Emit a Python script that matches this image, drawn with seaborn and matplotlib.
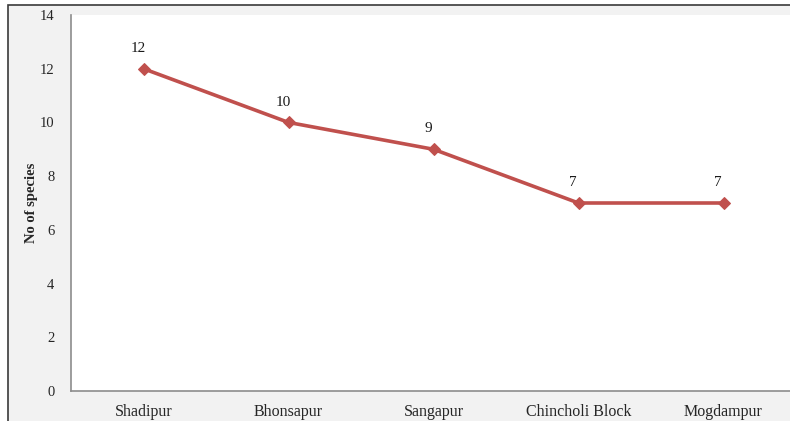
import pandas as pd
import matplotlib.pyplot as plt
import seaborn as sns
from matplotlib.patches import Rectangle

sites = ["Shadipur", "Bhonsapur", "Sangapur", "Chincholi Block", "Mogdampur"]
species = [12, 10, 9, 7, 7]
yticks = [0, 2, 4, 6, 8, 10, 12, 14]

sns.set_style("white")
plt.rcParams['font.family'] = ['Liberation Serif', 'DejaVu Serif']

df = pd.DataFrame({"site": sites, "species": species})
df["pos"] = range(len(sites))

fig = plt.figure(figsize=(7.9, 4.21), dpi=100)
fig.patch.set_facecolor("white")
# chart area frame (grey panel with dark border)
fig.add_artist(Rectangle((8 / 790, -0.05), 1.1, (421 - 5) / 421 + 0.05,
                         transform=fig.transFigure, facecolor="#f2f2f2",
                         edgecolor="#3a3a3a", linewidth=1.2, zorder=0))

ax = fig.add_axes([71 / 790, 30 / 421, 725 / 790, 376 / 421])
ax.set_facecolor("white")
sns.lineplot(data=df, x="pos", y="species", ax=ax, color="#C0504D",
             linewidth=2.6, marker="D", markersize=6.5,
             markeredgecolor="#C0504D", markerfacecolor="#C0504D")

for x, y in zip(df["pos"], df["species"]):
    ax.annotate(str(y), (x, y), xytext=(-4, 10), textcoords="offset points",
                ha="center", va="bottom", fontsize=11, color="#1a1a1a")

ax.set_xlim(-0.5, len(sites) - 0.5)
ax.set_ylim(0, 14)
ax.set_yticks(yticks)
ax.set_yticklabels([str(t) for t in yticks], fontsize=10.5)
ax.set_xticks(df["pos"])
ax.set_xticklabels(sites, fontsize=11.5)
ax.tick_params(axis="x", length=0, pad=9)
ax.tick_params(axis="y", length=0, pad=12)
ax.set_xlabel("")
ax.set_ylabel("No of species", fontsize=10.5, fontweight="bold")
ax.yaxis.set_label_coords(-0.046, 0.5)

for s in ["top", "right"]:
    ax.spines[s].set_visible(False)
for s in ["left", "bottom"]:
    ax.spines[s].set_color("#8c8c8c")
    ax.spines[s].set_linewidth(1.2)

fig.savefig("out.png", dpi=100, facecolor=fig.get_facecolor())
